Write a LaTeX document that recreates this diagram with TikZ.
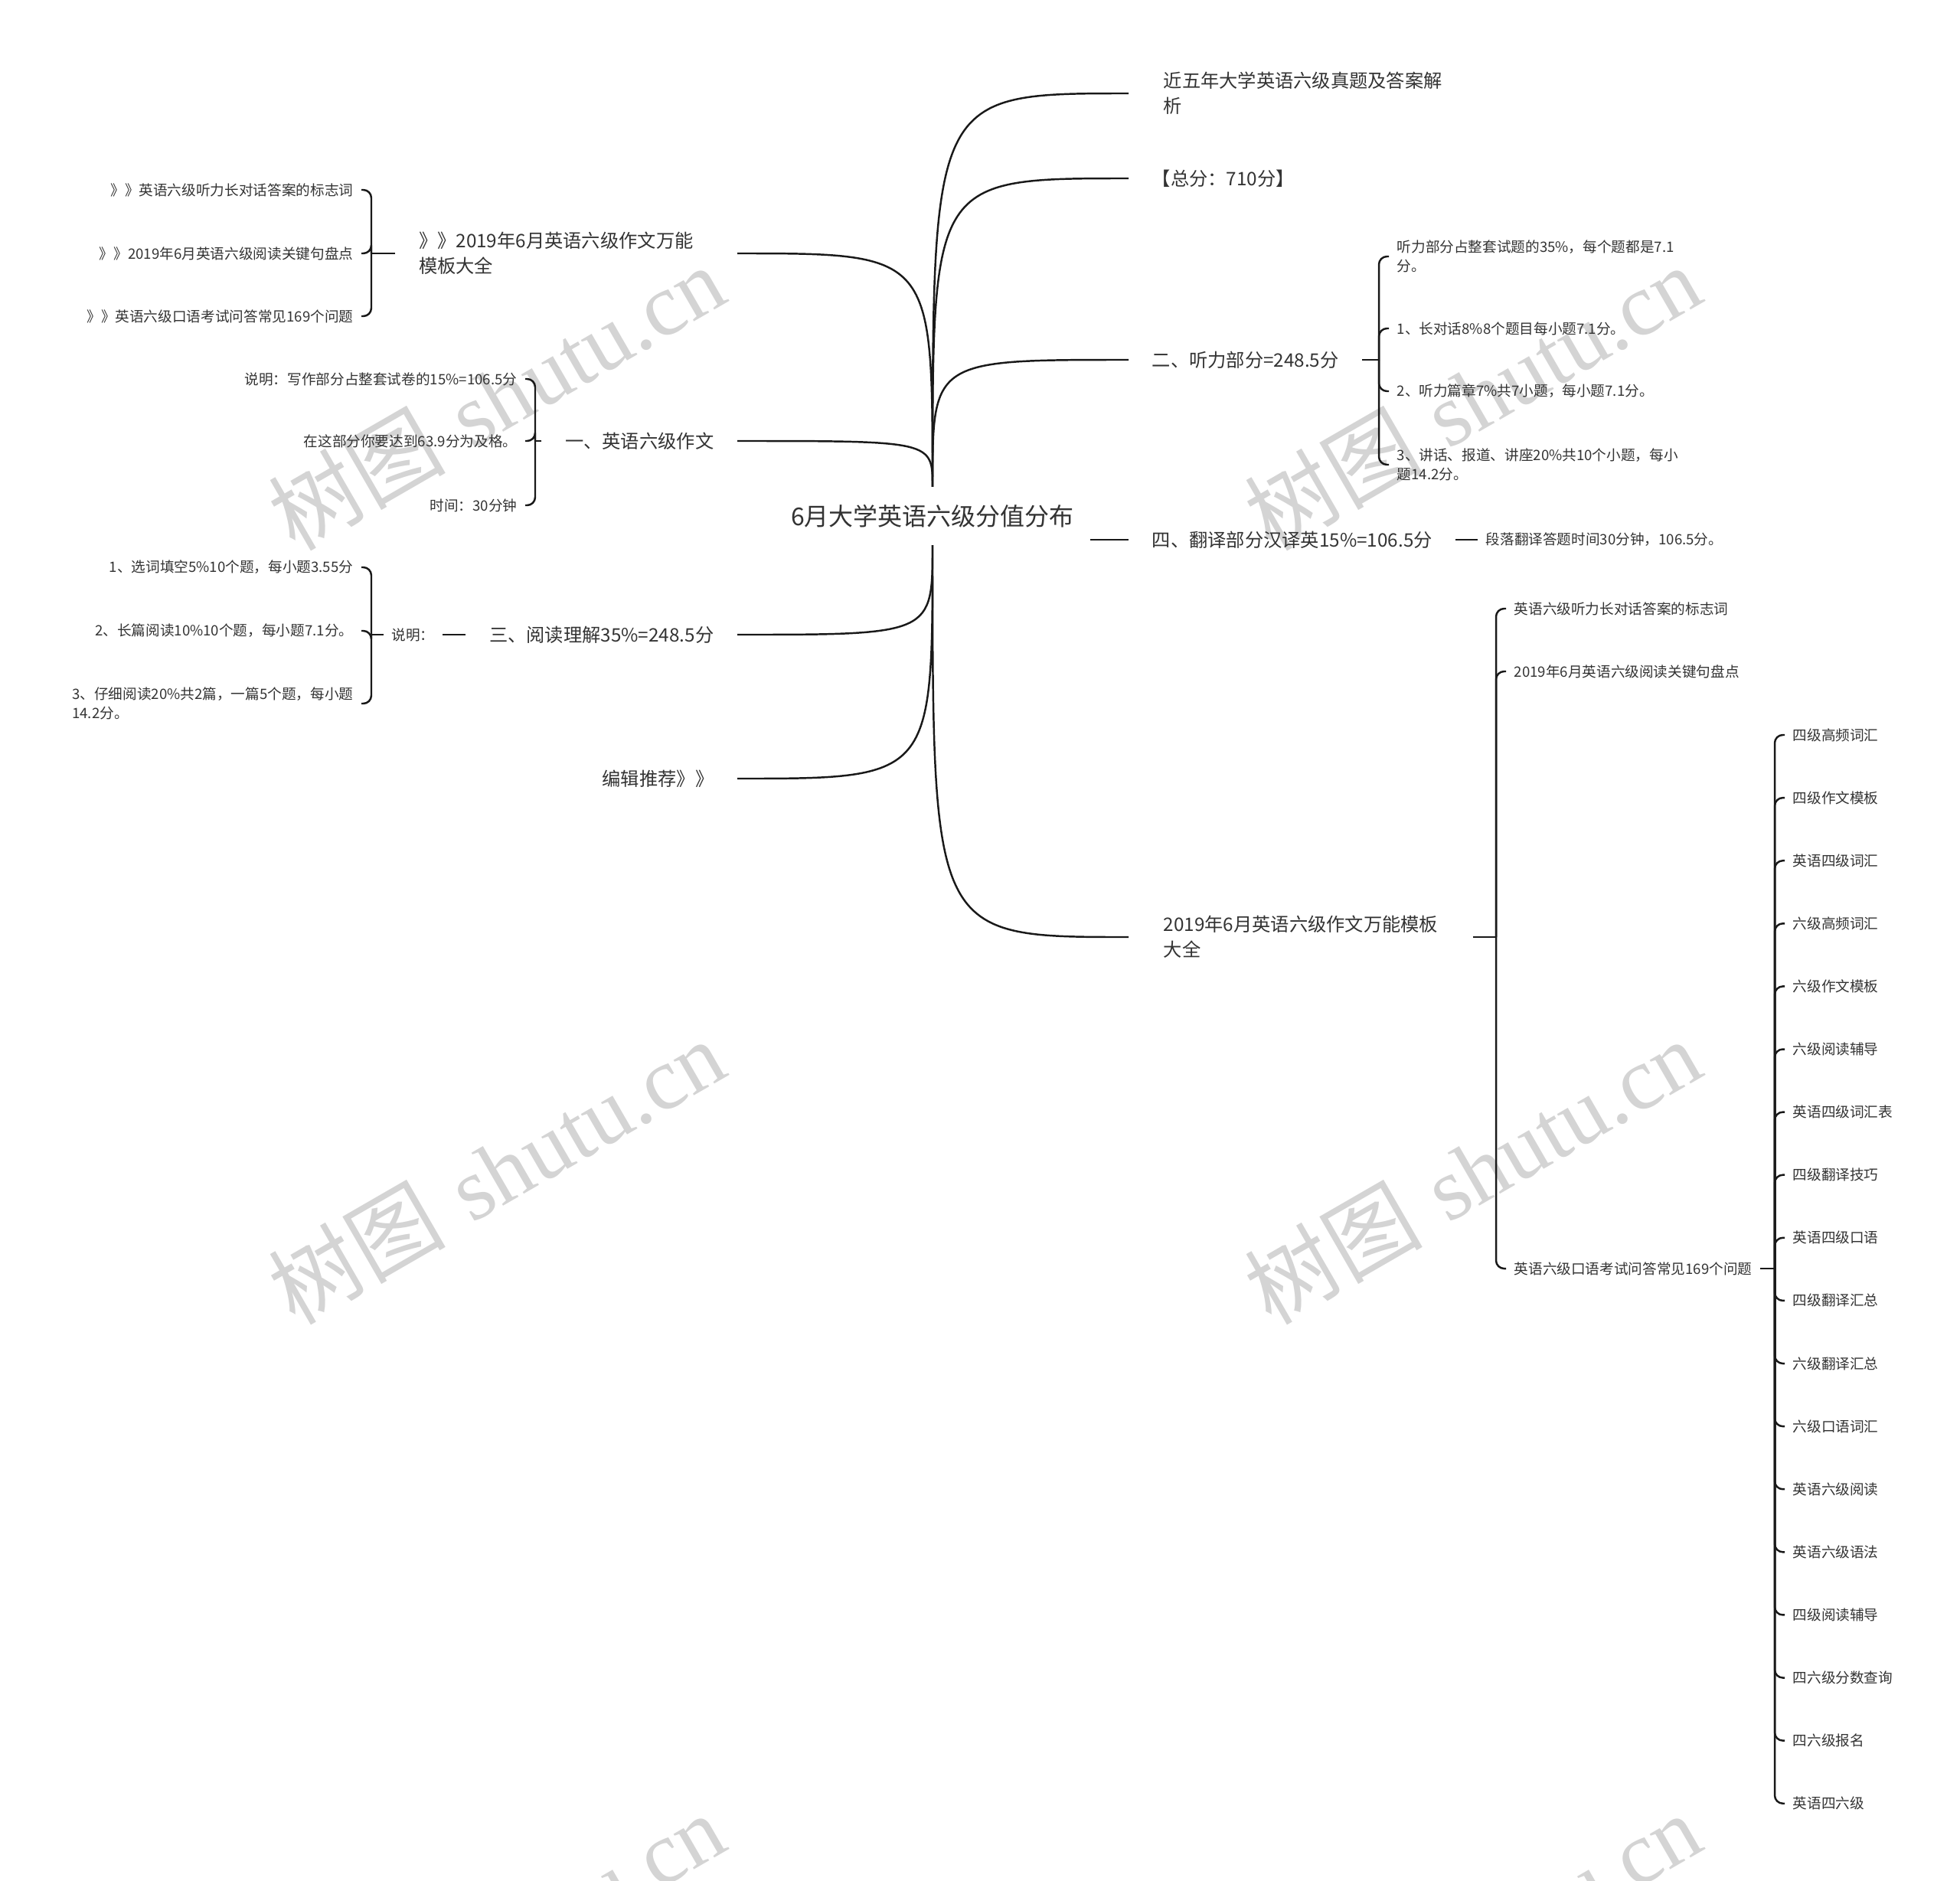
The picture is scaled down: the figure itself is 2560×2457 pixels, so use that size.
\documentclass[tikz,border=0pt]{standalone}
\usepackage{fontspec}
\newfontfamily\cjk{Noto Sans CJK SC}
\newfontfamily\wmfont{Liberation Serif}
\usetikzlibrary{positioning,calc}

\begin{document}
\begin{tikzpicture}[
    x=0.01cm, y=-0.01cm,
    root node/.style={font=\cjk\fontsize{9.1}{11}\selectfont, text=black!80, inner xsep=0.2cm, minimum height=0.75cm},
    branch node/.style={font=\cjk\fontsize{6.9}{9.3}\selectfont, text=black!80, inner xsep=0.3cm, inner ysep=0.1cm, align=left},
    wide branch/.style={branch node, inner xsep=0.45cm},
    leaf node/.style={font=\cjk\fontsize{5.3}{7}\selectfont, text=black!80, inner xsep=0.1cm, inner ysep=0.08cm, align=left},
    tree edge/.style={draw=black!90, line width=0.7pt},
    brace edge/.style={tree edge, rounded corners=3pt},
    water mark/.style={font=\fontsize{33}{38}\selectfont, text=black!17, rotate=30},
]
\useasboundingbox (0,0) rectangle (2560,2457);

% Watermarks
\begin{scope}
\clip (0,0) rectangle (2560,2457);
\foreach \wx in {648,1923}
  \foreach \wy in {519,1530,2541}
    \node[water mark] at (\wx,\wy) {{\cjk 树图} {\wmfont shutu.cn}};
\end{scope}

% Root
\node[root node] (root) at (1218,674) {6月大学英语六级分值分布};
\coordinate (rtop) at (root.north);
\coordinate (rbot) at (root.south);

% Right branches
\node[wide branch, anchor=west] (r1) at (1474,122) {近五年大学英语六级真题及答案解\\析};
\node[branch node, anchor=west] (r2) at (1474,233) {【总分：710分】};
\node[branch node, anchor=west] (r3) at (1474,470) {二、听力部分=248.5分};
\node[branch node, anchor=west] (r4) at (1474,705) {四、翻译部分汉译英15\%=106.5分};
\node[wide branch, anchor=west] (r5) at (1474,1224) {2019年6月英语六级作文万能模板\\大全};

% Left branches
\node[branch node, anchor=east, text width=3.85cm] (l1) at (963,331) {》》2019年6月英语六级作文万能\\模板大全};
\node[branch node, anchor=east] (l2) at (963,576) {一、英语六级作文};
\node[branch node, anchor=east] (l3) at (963,829) {三、阅读理解35\%=248.5分};
\node[branch node, anchor=east] (l4) at (963,1017) {编辑推荐》》};

% Curves from the root
\foreach \b in {r1,r2,r3}
  \draw[tree edge] (rtop) .. controls (rtop |- \b.west) .. (\b.west);
\foreach \b in {l1,l2}
  \draw[tree edge] (rtop) .. controls (rtop |- \b.east) .. (\b.east);
\draw[tree edge] (rbot) .. controls (rbot |- r5.west) .. (r5.west);
\foreach \b in {l3,l4}
  \draw[tree edge] (rbot) .. controls (rbot |- \b.east) .. (\b.east);
\draw[tree edge] (root.east |- r4.west) -- (r4.west);

% Listening part
\coordinate (r3s) at (1801,470);
\node[leaf node, anchor=west] (r3a) at (1814,335) {听力部分占整套试题的35\%，每个题都是7.1\\分。};
\node[leaf node, anchor=west] (r3b) at (1814,429) {1、长对话8\%8个题目每小题7.1分。};
\node[leaf node, anchor=west] (r3c) at (1814,511) {2、听力篇章7\%共7小题，每小题7.1分。};
\node[leaf node, anchor=west] (r3d) at (1814,607) {3、讲话、报道、讲座20\%共10个小题，每小\\题14.2分。};
\draw[tree edge] (r3.east) -- (r3s);
\foreach \c in {r3a,r3b,r3c,r3d}
  \draw[brace edge] (r3s) |- (\c.west);

% Translation part
\node[leaf node, anchor=west] (r4a) at (1930,705) {段落翻译答题时间30分钟，106.5分。};
\draw[tree edge] (r4.east) -- (r4a.west);

% Writing templates
\coordinate (r5s) at (1954,1224);
\node[leaf node, anchor=west] (r5a) at (1967,795) {英语六级听力长对话答案的标志词};
\node[leaf node, anchor=west] (r5b) at (1967,877) {2019年6月英语六级阅读关键句盘点};
\node[leaf node, anchor=west] (r5c) at (1967,1657) {英语六级口语考试问答常见169个问题};
\draw[tree edge] (r5.east) -- (r5s);
\foreach \c in {r5a,r5b,r5c}
  \draw[brace edge] (r5s) |- (\c.west);

\coordinate (r5cs) at (2318,1657);
\draw[tree edge] (r5c.east) -- (r5cs);
\foreach \txt [count=\i] in {四级高频词汇, 四级作文模板, 英语四级词汇, 六级高频词汇, 六级作文模板, 六级阅读辅导, 英语四级词汇表, 四级翻译技巧, 英语四级口语, 四级翻译汇总, 六级翻译汇总, 六级口语词汇, 英语六级阅读, 英语六级语法, 四级阅读辅导, 四六级分数查询, 四六级报名, 英语四六级} {
  \node[leaf node, anchor=west] (v\i) at (2331,{960+82.1*(\i-1)}) {\txt};
  \draw[brace edge] (r5cs) |- (v\i.west);
}

% Left: recommended articles
\coordinate (l1s) at (485,331);
\node[leaf node, anchor=east] (l1a) at (472,248) {》》英语六级听力长对话答案的标志词};
\node[leaf node, anchor=east] (l1b) at (472,331) {》》2019年6月英语六级阅读关键句盘点};
\node[leaf node, anchor=east] (l1c) at (472,413) {》》英语六级口语考试问答常见169个问题};
\draw[tree edge] (l1.west) -- (l1s);
\foreach \c in {l1a,l1b,l1c}
  \draw[brace edge] (l1s) |- (\c.east);

% Left: writing
\coordinate (l2s) at (699,576);
\node[leaf node, anchor=east] (l2a) at (686,495) {说明：写作部分占整套试卷的15\%=106.5分};
\node[leaf node, anchor=east] (l2b) at (686,576) {在这部分你要达到63.9分为及格。};
\node[leaf node, anchor=east] (l2c) at (686,660) {时间：30分钟};
\draw[tree edge] (l2.west) -- (l2s);
\foreach \c in {l2a,l2b,l2c}
  \draw[brace edge] (l2s) |- (\c.east);

% Left: reading
\node[leaf node, anchor=east] (l3m) at (578,829) {说明：};
\draw[tree edge] (l3.west) -- (l3m.east);
\coordinate (l3s) at (485,829);
\node[leaf node, anchor=east] (l3a) at (472,741) {1、选词填空5\%10个题，每小题3.55分};
\node[leaf node, anchor=east] (l3b) at (472,824) {2、长篇阅读10\%10个题，每小题7.1分。};
\node[leaf node, anchor=east] (l3c) at (472,919) {3、仔细阅读20\%共2篇，一篇5个题，每小题\\14.2分。};
\draw[tree edge] (l3m.west) -- (l3s);
\foreach \c in {l3a,l3b,l3c}
  \draw[brace edge] (l3s) |- (\c.east);

\end{tikzpicture}
\end{document}
